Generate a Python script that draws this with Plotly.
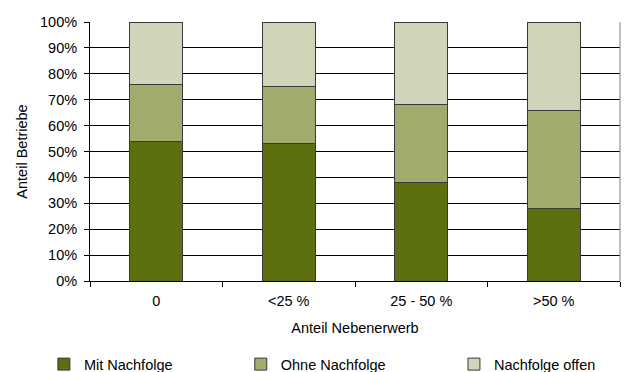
import plotly.graph_objects as go

# Share of farms by successor status, grouped by share of part-time farming
categories = ["0", "<25 %", "25 - 50 %", ">50 %"]
mit_nachfolge = [54, 53, 38, 28]
ohne_nachfolge = [22, 22, 30, 38]
nachfolge_offen = [24, 25, 32, 34]

series = [
    ("Mit Nachfolge", mit_nachfolge, "#5B6F0E", "legend"),
    ("Ohne Nachfolge", ohne_nachfolge, "#A1AB6D", "legend2"),
    ("Nachfolge offen", nachfolge_offen, "#CFD5B8", "legend3"),
]

FONT = dict(family="Liberation Sans, Arial, sans-serif", size=14.5, color="#000000")

fig = go.Figure()
for name, values, color, lg in series:
    fig.add_trace(go.Bar(
        x=categories, y=values, name=name, legend=lg,
        marker=dict(color=color, line=dict(color="#3a3a3a", width=1)),
        width=0.4,
    ))

legend_common = dict(
    orientation="h", xref="container", yref="container",
    yanchor="middle", y=0.021, xanchor="left",
    font=FONT, bgcolor="rgba(0,0,0,0)", borderwidth=0,
    itemwidth=30, tracegroupgap=0,
)

fig.update_layout(
    width=627, height=372,
    margin=dict(l=90, r=7, t=22, b=91, autoexpand=False),
    barmode="stack",
    showlegend=True,
    plot_bgcolor="white", paper_bgcolor="white",
    font=FONT,
    legend=dict(x=0.070, **legend_common),
    legend2=dict(x=0.384, **legend_common),
    legend3=dict(x=0.724, **legend_common),
    xaxis=dict(
        type="category", tickson="boundaries", automargin=False,
        showline=True, linecolor="#000000", linewidth=1,
        ticks="outside", ticklen=5, tickcolor="#000000",
        ticklabelstandoff=7,
        showgrid=False,
        title=dict(text="Anteil Nebenerwerb", font=FONT, standoff=14),
    ),
    yaxis=dict(
        range=[0, 100], dtick=10, ticksuffix="%", automargin=False,
        showline=True, linecolor="#000000", linewidth=1,
        ticks="outside", ticklen=5, tickcolor="#000000",
        ticklabelstandoff=4,
        showgrid=True, gridcolor="#000000", gridwidth=1,
        zeroline=False,
        title=dict(text="Anteil Betriebe", font=FONT, standoff=8),
    ),
    shapes=[dict(type="line", xref="paper", yref="paper",
                 x0=1, x1=1, y0=0, y1=1,
                 line=dict(color="#808080", width=1))],
)

fig.write_html("out.html")
